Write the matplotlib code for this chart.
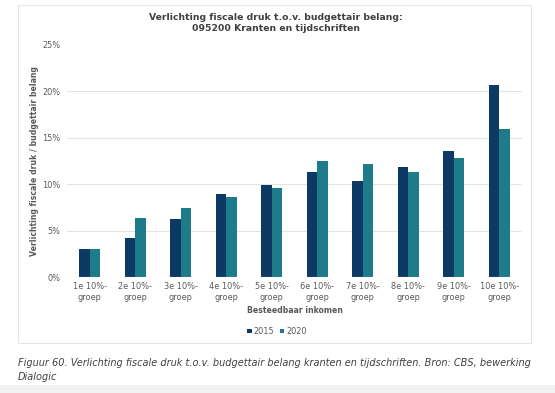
import matplotlib
matplotlib.use("Agg")
import matplotlib.pyplot as plt
from matplotlib.patches import Rectangle
from matplotlib.ticker import FuncFormatter
import numpy as np

categories = ["1e 10%-\ngroep", "2e 10%-\ngroep", "3e 10%-\ngroep", "4e 10%-\ngroep",
              "5e 10%-\ngroep", "6e 10%-\ngroep", "7e 10%-\ngroep", "8e 10%-\ngroep",
              "9e 10%-\ngroep", "10e 10%-\ngroep"]
values_2015 = [3.0, 4.2, 6.3, 8.9, 9.9, 11.3, 10.3, 11.8, 13.6, 20.6]
values_2020 = [3.0, 6.4, 7.4, 8.65, 9.6, 12.5, 12.15, 11.35, 12.85, 15.95]
series_names = ["2015", "2020"]
yticks = [0, 5, 10, 15, 20, 25]

c2015 = "#0C3A64"
c2020 = "#1E7B8A"
txt = "#595959"

fig = plt.figure(figsize=(5.55, 3.93), dpi=100)
fig.patch.set_facecolor("white")

# outer chart frame
fig.add_artist(Rectangle((18/555, 1-343/393), (531-18)/555, (343-5)/393,
                         transform=fig.transFigure, facecolor="white",
                         edgecolor="#E6E6E6", linewidth=0.8, zorder=-5))
# grey page strip at bottom
fig.add_artist(Rectangle((0, 0), 1, 8/393, transform=fig.transFigure,
                         facecolor="#F2F2F2", edgecolor="none", zorder=-5))

ax = fig.add_axes([67/555, 1-277.3/393, 455/555, (277.3-44.5)/393])
ax.set_zorder(2)
ax.set_facecolor("none")
x = np.arange(len(categories))
w = 0.236
ax.bar(x - w/2, values_2015, w, color=c2015, label=series_names[0], zorder=3)
ax.bar(x + w/2, values_2020, w, color=c2020, label=series_names[1], zorder=3)

ax.set_xlim(-0.5, len(categories) - 0.5)
ax.set_ylim(0, 25)
ax.set_yticks(yticks)
ax.yaxis.set_major_formatter(FuncFormatter(lambda v, p: f"{int(v)}%"))
ax.set_xticks(x)
ax.set_xticklabels(categories, fontsize=5.9, color=txt, linespacing=1.25)
ax.tick_params(axis="y", labelsize=5.9, labelcolor=txt, length=0, pad=5)
ax.tick_params(axis="x", length=0, pad=3.5)
for s in ax.spines.values():
    s.set_visible(False)
ax.grid(axis="y", color="#E3E3E3", linewidth=0.8, zorder=0)
ax.axhline(0, color="#D9D9D9", linewidth=0.8, zorder=4)

ax.set_xlabel("Besteedbaar inkomen", fontsize=5.6, fontweight="bold", color=txt, labelpad=3)
ax.set_ylabel("Verlichting fiscale druk / budgettair belang", fontsize=5.6,
              fontweight="bold", color=txt, labelpad=2)

fig.text(276/555, 1-23/393, "Verlichting fiscale druk t.o.v. budgettair belang:\n095200 Kranten en tijdschriften",
         ha="center", va="center", fontsize=6.65, fontweight="bold", color="#404040",
         linespacing=1.2)

leg = ax.legend(loc="center", bbox_to_anchor=(277/555, 1-331.5/393),
                bbox_transform=fig.transFigure, ncol=2, frameon=False,
                fontsize=5.9, handlelength=0.5, handleheight=0.5,
                handletextpad=0.2, columnspacing=0.8, labelcolor=txt)

fig.text(18/555, 1-370/393,
         "Figuur 60. Verlichting fiscale druk t.o.v. budgettair belang kranten en tijdschriften. Bron: CBS, bewerking\nDialogic",
         ha="left", va="center", fontsize=7.05, style="italic", color="#404040",
         linespacing=1.45)

fig.savefig("out.png", dpi=100)
